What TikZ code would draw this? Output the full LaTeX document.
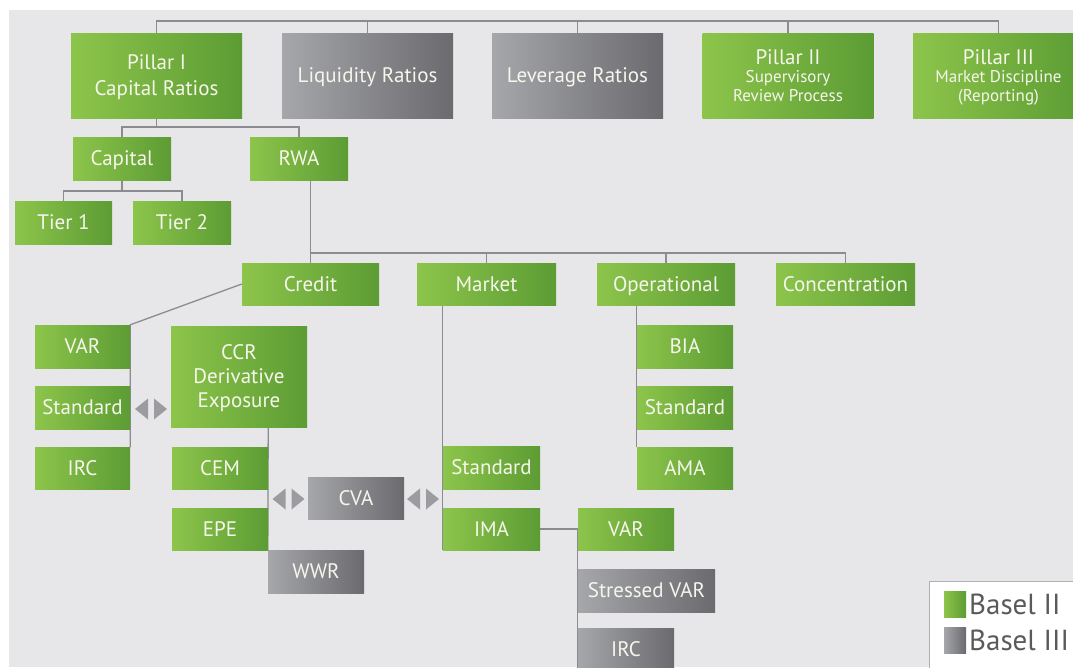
\documentclass[tikz,border=0pt]{standalone}
\usepackage{fontspec}
\setmainfont{PT Sans}
\usetikzlibrary{calc}
\pgfdeclarelayer{bg}
\pgfsetlayers{bg,main}
\definecolor{bgc}{HTML}{E7E7E9}
\definecolor{ga}{HTML}{8DC54B}
\definecolor{gb}{HTML}{5C9C34}
\definecolor{ya}{HTML}{A6A7AA}
\definecolor{yb}{HTML}{6A6A6F}
\definecolor{lc}{HTML}{8C8C90}
\definecolor{tc}{HTML}{F6F6EC}
\definecolor{ac}{HTML}{9C9CA0}
\definecolor{legt}{HTML}{5A5A5C}
\definecolor{legb}{HTML}{B0B0B2}
\begin{document}
\begin{tikzpicture}[x=1pt,y=-1pt,
  bx/.style 2 args={rectangle, inner sep=0pt, text=tc, align=center, text depth=0pt,
    minimum width=#1, minimum height=#2, font=\fontsize{21}{24}\selectfont},
  grn/.style={left color=ga, right color=gb},
  gry/.style={left color=ya, right color=yb},
  big/.style={font=\fontsize{21}{26}\selectfont},
  conn/.style={draw=lc, line width=1.3pt},
  dbl/.pic={
    \fill[ac] (-3,-10.5) -- (-16,0) -- (-3,10.5) -- cycle;
    \fill[ac] (3,-10.5) -- (16,0) -- (3,10.5) -- cycle;
  }]
\clip (0,0) rectangle (1073,667);

% top row
\node[bx={171}{85},grn,big] (p1) at (156.5,75.5) {Pillar I\\Capital Ratios};
\node[bx={171}{85},gry,big] (liq) at (367.5,75.5) {Liquidity Ratios};
\node[bx={171}{85},gry,big] (lev) at (577.5,75.5) {Leverage Ratios};
\node[bx={171}{85},grn] (p2) at (788,76) {{\fontsize{21}{24}\selectfont Pillar II}\\[-6pt]{\fontsize{17}{17}\selectfont Supervisory}\\[-5pt]{\fontsize{17}{17}\selectfont Review Process}};
\node[bx={171}{85},grn] (p3) at (998.5,76) {{\fontsize{21}{24}\selectfont Pillar III}\\[-6pt]{\fontsize{17}{17}\selectfont Market Discipline}\\[-5pt]{\fontsize{17}{17}\selectfont (Reporting)}};

% second / third rows
\node[bx={98}{43},grn] (cap) at (122,158.5) {Capital};
\node[bx={98}{43},grn] (rwa) at (299,158.5) {RWA};
\node[bx={97}{43},grn] (t1) at (63.5,222.5) {Tier 1};
\node[bx={98}{43},grn] (t2) at (182,222.5) {Tier 2};

% risk types
\node[bx={137}{42},grn] (cred) at (310.5,284) {Credit};
\node[bx={139}{42},grn] (mkt) at (486.5,284) {Market};
\node[bx={138}{42},grn] (ops) at (666,284) {Operational};
\node[bx={139}{42},grn] (conc) at (845.5,284) {Concentration};

% credit children
\node[bx={95}{43},grn] (lvar) at (82.5,346.5) {VAR};
\node[bx={95}{43},grn] (lstd) at (82.5,407.5) {Standard};
\node[bx={95}{42},grn] (lirc) at (82.5,468.5) {IRC};
\node[bx={136}{101},grn] (ccr) at (239,376.5) {CCR\\Derivative\\Exposure};
\node[bx={96}{42},grn] (cem) at (220,468) {CEM};
\node[bx={96}{42},grn] (epe) at (220,529) {EPE};
\node[bx={96}{43},gry] (wwr) at (316,571.5) {WWR};
\node[bx={96}{42},gry] (cva) at (356,498) {CVA};

% market children
\node[bx={97}{43},grn] (mstd) at (491.5,467.5) {Standard};
\node[bx={97}{42},grn] (mima) at (491.5,529) {IMA};
\node[bx={96}{42},grn] (mvar) at (626,529) {VAR};
\node[bx={137}{43},gry] (msvar) at (646.5,590.5) {Stressed VAR};
\node[bx={96}{42},gry] (mirc) at (626,649) {IRC};

% operational children
\node[bx={96}{43},grn] (bia) at (685,346.5) {BIA};
\node[bx={96}{43},grn] (ostd) at (685,407.5) {Standard};
\node[bx={96}{42},grn] (ama) at (685,468.5) {AMA};

% double arrows
\pic (da1) at (151,409) {dbl};
\pic (da2) at (288.5,499) {dbl};
\pic (da3) at (423,499) {dbl};

% legend
\node[draw=legb, fill=white, line width=1pt, minimum width=156, minimum height=99, inner sep=0pt] (leg) at (1007,630.5) {};
\node[bx={22}{26},grn] (lg1) at (955,604) {};
\node[bx={22}{26},gry] (lg2) at (955,640) {};
\node[anchor=west, inner sep=0pt, text=legt, font=\fontsize{29}{32}\selectfont] (lt1) at (969,604) {Basel II};
\node[anchor=west, inner sep=0pt, text=legt, font=\fontsize{29}{32}\selectfont] (lt2) at (969,640) {Basel III};

\begin{pgfonlayer}{bg}
\fill[white] (0,0) rectangle (1073,667);
\fill[bgc] (9,10) rectangle (1073,667);
\coordinate (b1) at (0,21);
\coordinate (b2) at (0,127);
\coordinate (b3) at (0,191);
\coordinate (b4) at (0,253);
\draw[conn] (p1.north) |- (b1 -| p3.north) -- (p3.north);
\foreach \n in {liq,lev,p2} \draw[conn] (\n.north) -- (\n.north |- b1);
\draw[conn] (p1.south) -- (p1.south |- b2);
\draw[conn] (cap.north) |- (b2 -| rwa.north) -- (rwa.north);
\draw[conn] (cap.south) -- (cap.south |- b3);
\draw[conn] (t1.north) |- (b3 -| t2.north) -- (t2.north);
\draw[conn] (cred.north |- rwa.south) -- (cred.north);
\draw[conn] (cred.north |- b4) -| (conc.north);
\draw[conn] (mkt.north) -- (mkt.north |- b4);
\draw[conn] (ops.north) -- (ops.north |- b4);
\draw[conn] (cred.west) -- (lvar.north east) -- (lirc.north east);
\draw[conn] (ccr.south -| cem.east) -- (wwr.north west);
\draw[conn] (mkt.south -| mstd.west) -- (mima.south west);
\draw[conn] (ops.south -| bia.west) -- (ama.north west);
\draw[conn] (mima.east) -- (mvar.west);
\draw[conn] (mvar.west) -- (mirc.south west);
\end{pgfonlayer}
\end{tikzpicture}
\end{document}
